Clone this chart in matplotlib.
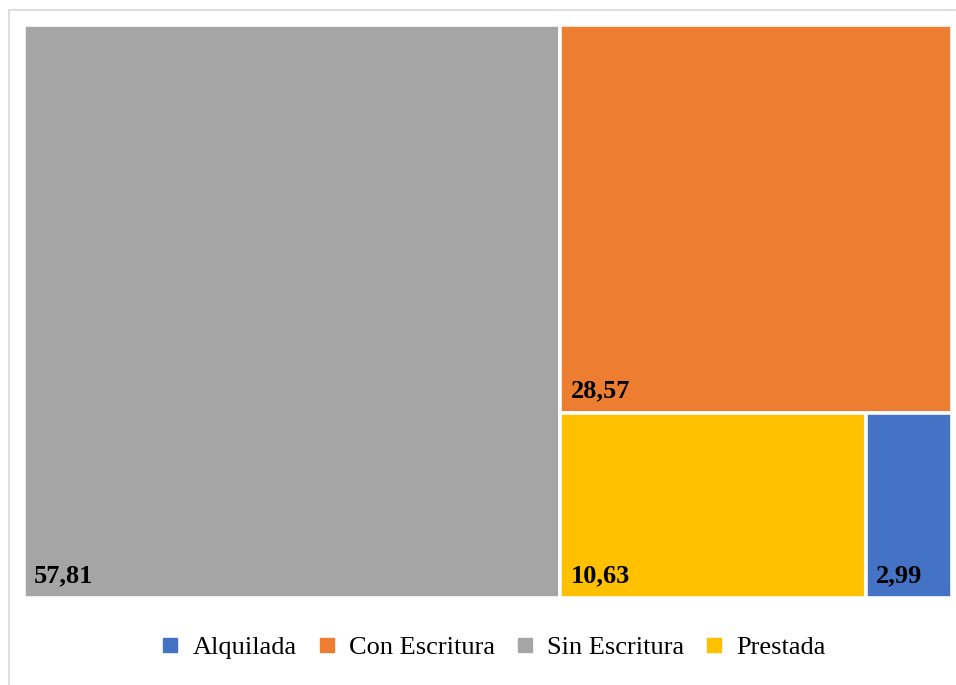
import matplotlib
matplotlib.use("Agg")
import matplotlib.pyplot as plt
from matplotlib.patches import Rectangle
from matplotlib.lines import Line2D

categories = ["Alquilada", "Con Escritura", "Sin Escritura", "Prestada"]
values = [2.99, 28.57, 57.81, 10.63]
labels = ["2,99", "28,57", "57,81", "10,63"]
colors = ["#4472C4", "#ED7D31", "#A5A5A5", "#FFC000"]

plt.rcParams["font.family"] = ["Liberation Serif", "DejaVu Serif"]

W, H = 956, 685
fig = plt.figure(figsize=(W / 100, H / 100), dpi=100)

# light outer frame of the chart area
fig.patches.append(Rectangle((8.5 / W, -0.05), 1.2, 1 - 9.5 / H + 0.05,
                             transform=fig.transFigure, fill=False,
                             edgecolor="#D9D9D9", linewidth=1.2))

ax = fig.add_axes([24 / W, (H - 598) / H, 928 / W, 573 / H])
ax.set_xlim(0, sum(values))
ax.set_ylim(0, 1)
ax.axis("off")

v = dict(zip(categories, values))
lab = dict(zip(categories, labels))
col = dict(zip(categories, colors))

total = sum(values)
# squarified layout: largest block on the left, the rest split to the right
x0 = v["Sin Escritura"]
rest = total - x0
top_h = v["Con Escritura"] / rest
bottom = v["Prestada"] + v["Alquilada"]
yel_w = rest * v["Prestada"] / bottom

rects = {
    "Sin Escritura": (0, 0, x0, 1),
    "Con Escritura": (x0, 1 - top_h, rest, top_h),
    "Prestada": (x0, 0, yel_w, 1 - top_h),
    "Alquilada": (x0 + yel_w, 0, rest - yel_w, 1 - top_h),
}

pad_x = total * 10 / 928
pad_y = 11 / 573
for name in ["Sin Escritura", "Con Escritura", "Prestada", "Alquilada"]:
    x, y, w, h = rects[name]
    ax.add_patch(Rectangle((x, y), w, h, facecolor=col[name],
                           edgecolor="white", linewidth=2.6))
    ax.text(x + pad_x, y + pad_y, lab[name], fontsize=19, fontweight="bold",
            ha="left", va="bottom", color="black")

handles = [Line2D([], [], marker="s", linestyle="none", markersize=10.5,
                  markerfacecolor=col[c], markeredgecolor=col[c])
           for c in categories]
fig.legend(handles, categories, loc="center", ncol=4,
           bbox_to_anchor=(0.514, 1 - 647 / H), frameon=False,
           fontsize=19, handletextpad=0.35, columnspacing=0.62,
           handlelength=1.0)

fig.savefig("out.png", dpi=100, facecolor="white")
